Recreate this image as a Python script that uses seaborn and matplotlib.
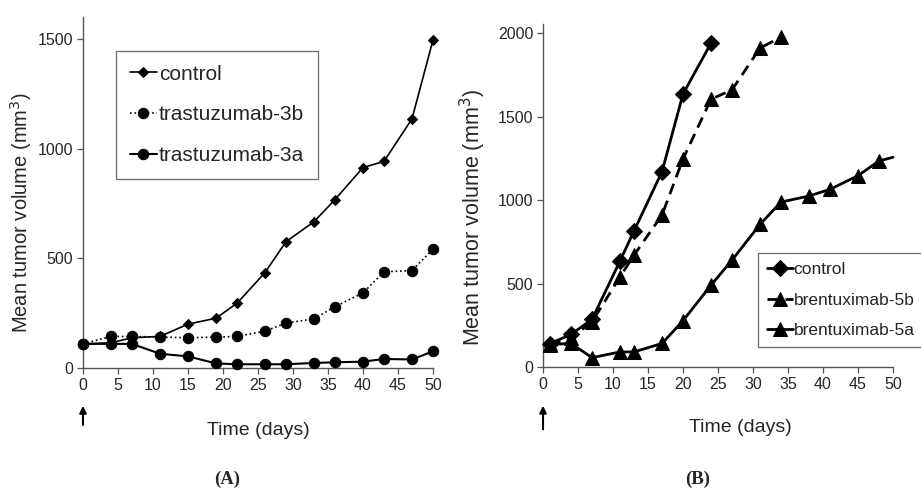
import numpy as np
import pandas as pd
import matplotlib
matplotlib.use("Agg")
import matplotlib.pyplot as plt
import seaborn as sns

# panel A - trastuzumab
days_a = [0, 4, 7, 11, 15, 19, 22, 26, 29, 33, 36, 40, 43, 47, 50]
control_a = [110, 115, 138, 144, 200, 227, 295, 435, 576, 667, 768, 914, 942, 1136, 1495]
tras_3b = [110, 144, 144, 141, 138, 141, 144, 168, 205, 224, 280, 342, 439, 444, 542]
tras_3a = [110, 110, 110, 65, 53, 21, 17, 17, 17, 23, 26, 29, 41, 39, 76]

# panel B - brentuximab
days_b_ctrl = [1, 4, 7, 11, 13, 17, 20, 24]
control_b = [140, 195, 285, 635, 815, 1170, 1635, 1940]
days_b_5b = [1, 4, 7, 11, 13, 17, 20, 24, 27, 31, 34]
brent_5b = [131, 175, 270, 540, 670, 910, 1246, 1604, 1660, 1910, 1976]
days_b_5a = [1, 4, 7, 11, 13, 17, 20, 24, 27, 31, 34, 38, 41, 45, 48, 50]
brent_5a = [135, 141, 56, 90, 90, 141, 277, 490, 640, 854, 988, 1024, 1064, 1146, 1234, 1256]

sns.set_theme(style="ticks")
plt.rcParams['font.family'] = ['Liberation Sans', 'DejaVu Sans']

fig = plt.figure(figsize=(9.21, 4.88), dpi=100)
axA = fig.add_axes([0.0901, 0.2459, 0.380, 0.719])
axB = fig.add_axes([0.5896, 0.248, 0.380, 0.703])

def draw(ax, x, y, label, marker, ls, lw, ms, markevery=None):
    df = pd.DataFrame({"day": x, "vol": y})
    sns.lineplot(data=df, x="day", y="vol", ax=ax, color="black", lw=lw,
                 linestyle=ls, marker=marker, markersize=ms, markeredgecolor="black",
                 markevery=markevery, label=label, clip_on=False, zorder=3)

draw(axA, days_a, control_a, "control", "D", "-", 1.2, 5.5)
draw(axA, days_a, tras_3b, "trastuzumab-3b", "o", ":", 1.2, 7.5)
draw(axA, days_a, tras_3a, "trastuzumab-3a", "o", "-", 1.5, 7.5)

draw(axB, days_b_ctrl, control_b, "control", "D", "-", 2.0, 8)
draw(axB, days_b_5b, brent_5b, "brentuximab-5b", "^", (0, (4, 2.5)), 2.0, 10)
draw(axB, days_b_5a, brent_5a, "brentuximab-5a", "^", "-", 2.0, 10,
     markevery=list(range(len(days_b_5a) - 1)))

for ax, ymax, yt in [(axA, 1600, [0, 500, 1000, 1500]), (axB, 2055, [0, 500, 1000, 1500, 2000])]:
    ax.set_xlim(0, 50)
    ax.set_ylim(0, ymax)
    ax.set_xticks(range(0, 51, 5))
    ax.set_yticks(yt)
    ax.tick_params(labelsize=11.5, length=4, width=0.9, color="#555555", pad=3)
    for s in ["top", "right"]:
        ax.spines[s].set_visible(False)
    for s in ["left", "bottom"]:
        ax.spines[s].set_color("#555555")
        ax.spines[s].set_linewidth(1.0)
    ax.set_xlabel("Time (days)", fontsize=14, labelpad=8)
    ax.grid(False)

axA.set_ylabel("Mean tumor volume (mm$^3$)", fontsize=14.5)
axB.set_ylabel("Mean tumor volume (mm$^3$)", fontsize=15.5)
axA.xaxis.set_label_coords(0.5, -0.155)
axB.xaxis.set_label_coords(0.565, -0.152)
axA.yaxis.set_label_coords(-0.14, 0.444)
axB.yaxis.set_label_coords(-0.157, 0.437)

legA = axA.legend(loc="upper left", bbox_to_anchor=(116 / 921, 1 - 51 / 488),
                  bbox_transform=fig.transFigure, fontsize=15, frameon=True,
                  fancybox=False, edgecolor="#444444", handlelength=1.3,
                  handletextpad=0.1, labelspacing=1.05, borderpad=0.65, borderaxespad=0)
legA.get_frame().set_linewidth(0.9)
legB = axB.legend(loc="upper left", bbox_to_anchor=(758 / 921, 1 - 253 / 488),
                  bbox_transform=fig.transFigure, fontsize=12.5, frameon=True,
                  fancybox=False, edgecolor="#444444", handlelength=1.5,
                  handletextpad=0.05, labelspacing=0.9, borderpad=0.5, borderaxespad=0)
legB.get_frame().set_linewidth(0.9)

# treatment arrows at day 0
axA.annotate("", xy=(0, -0.10), xytext=(0, -0.17), xycoords=("data", "axes fraction"),
             arrowprops=dict(arrowstyle="-|>", color="black", lw=1.5, mutation_scale=10),
             annotation_clip=False)
axB.annotate("", xy=(0, -0.105), xytext=(0, -0.19), xycoords=("data", "axes fraction"),
             arrowprops=dict(arrowstyle="-|>", color="black", lw=1.5, mutation_scale=10),
             annotation_clip=False)

fig.text(227 / 921, 1 - 479 / 488, "(A)", ha="center", va="center", fontsize=13.5,
         fontweight="bold", family="Liberation Serif")
fig.text(698 / 921, 1 - 479 / 488, "(B)", ha="center", va="center", fontsize=13.5,
         fontweight="bold", family="Liberation Serif")

fig.savefig("out.png", dpi=100)
